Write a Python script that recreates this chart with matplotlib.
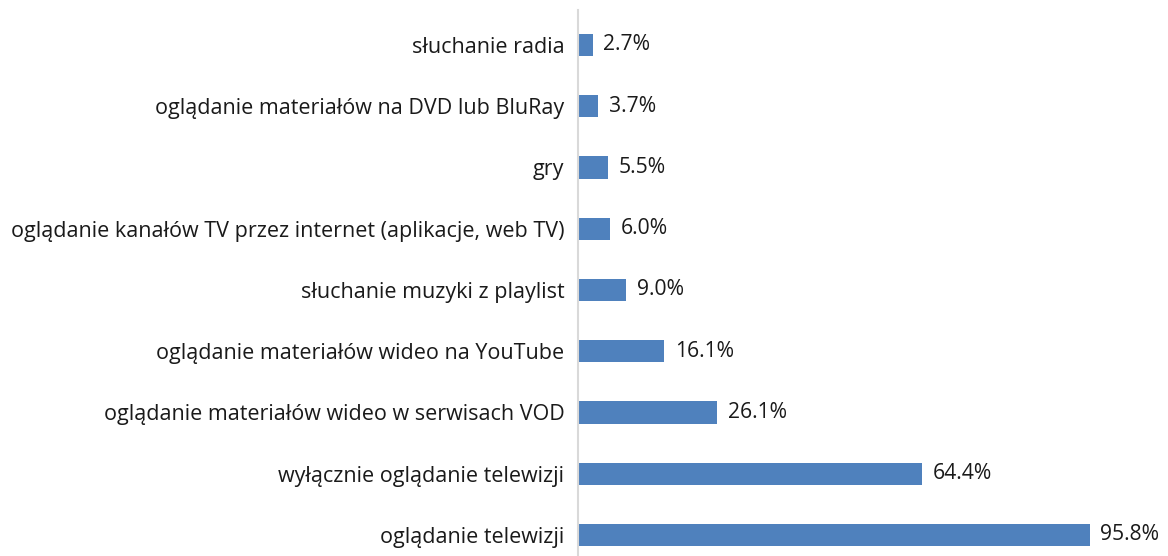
import numpy as np
import matplotlib.pyplot as plt

plt.rcParams['font.family'] = ['Open Sans', 'DejaVu Sans']

categories = [
    'oglądanie telewizji',
    'wyłącznie oglądanie telewizji',
    'oglądanie materiałów wideo w serwisach VOD',
    'oglądanie materiałów wideo na YouTube',
    'słuchanie muzyki z playlist',
    'oglądanie kanałów TV przez internet (aplikacje, web TV)',
    'gry',
    'oglądanie materiałów na DVD lub BluRay',
    'słuchanie radia',
]
values = [95.8, 64.4, 26.1, 16.1, 9.0, 6.0, 5.5, 3.7, 2.7]

fig = plt.figure(figsize=(11.68, 5.56), dpi=100)
ax = fig.add_axes([0.495, 0.0, 0.457, 0.982])

y = np.arange(len(categories))
ax.barh(y, values, height=0.36, color='#4F81BD')

for yi, v in zip(y, values):
    ax.text(v + 2.0, yi, f'{v:.1f}%', va='center', ha='left', fontsize=15.2, color='#1a1a1a')

ax.set_yticks(y)
ax.set_yticklabels(categories, fontsize=15.5, color='#1a1a1a')
ax.tick_params(axis='y', length=0, pad=10)
ax.set_xticks([])
ax.set_xlim(0, 100)
ax.set_ylim(-0.343, 8.571)

for side in ['top', 'right', 'bottom']:
    ax.spines[side].set_visible(False)
ax.spines['left'].set_color('#D9D9D9')
ax.spines['left'].set_linewidth(1.5)

fig.savefig('out.png', dpi=100)
